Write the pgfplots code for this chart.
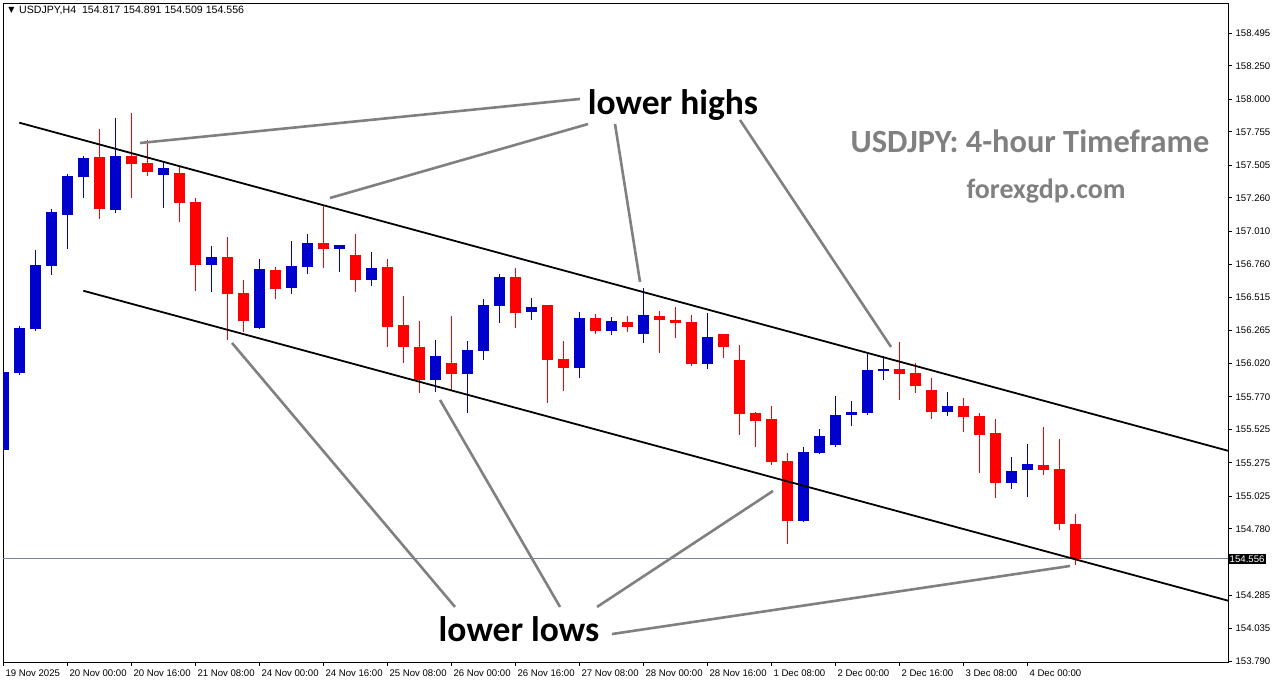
\documentclass[border=0pt]{standalone}
\usepackage{fontspec}
\setmainfont{Carlito}
\newfontfamily\tickfont{Liberation Sans}
\newfontfamily\symfont{DejaVu Sans}
\usepackage{pgfplots}
\pgfplotsset{compat=1.18}
\usepackage{pgfplotstable}

\definecolor{mtblue}{RGB}{0,0,204}
\definecolor{mtred}{RGB}{255,0,0}
\definecolor{annog}{RGB}{128,128,128}
\definecolor{pline}{RGB}{119,136,153}

\pgfplotstableread{
x O H L C
0 155.371 155.963 155.333 155.958
1 155.950 156.300 155.933 156.285
2 156.278 156.869 156.265 156.757
3 156.752 157.179 156.682 157.154
4 157.132 157.439 156.877 157.424
5 157.419 157.574 157.259 157.559
7 157.169 157.858 157.149 157.574
10 157.434 157.536 157.186 157.484
13 156.759 156.899 156.557 156.817
16 156.285 156.802 156.278 156.727
18 156.585 156.937 156.542 156.750
19 156.742 156.989 156.692 156.922
21 156.877 156.907 156.705 156.907
23 156.647 156.854 156.602 156.735
27 155.898 156.195 155.808 156.077
29 155.943 156.188 155.650 156.120
30 156.115 156.505 156.048 156.457
31 156.452 156.690 156.325 156.667
33 156.407 156.510 156.347 156.442
36 155.988 156.405 155.913 156.360
38 156.265 156.367 156.235 156.337
40 156.242 156.585 156.175 156.382
44 156.017 156.397 155.980 156.217
50 154.841 155.393 154.835 155.356
51 155.351 155.528 155.343 155.476
52 155.408 155.776 155.396 155.633
53 155.635 155.738 155.551 155.656
54 155.650 156.090 155.635 155.970
55 155.965 156.075 155.898 155.978
59 155.658 155.806 155.628 155.701
63 155.126 155.319 155.081 155.214
64 155.223 155.416 155.021 155.266
}\bull

\pgfplotstableread{
x O H L C
6 157.566 157.776 157.104 157.179
8 157.576 157.896 157.259 157.516
9 157.521 157.694 157.424 157.456
11 157.446 157.494 157.081 157.224
12 157.229 157.259 156.562 156.759
14 156.817 156.967 156.197 156.542
15 156.547 156.645 156.255 156.340
17 156.720 156.744 156.500 156.579
20 156.922 157.207 156.735 156.877
22 156.832 156.989 156.557 156.647
24 156.742 156.802 156.145 156.295
25 156.307 156.525 156.025 156.145
26 156.145 156.337 155.800 155.898
28 156.023 156.375 155.815 155.943
32 156.667 156.735 156.287 156.400
34 156.457 156.457 155.725 156.048
35 156.053 156.188 155.815 155.988
37 156.360 156.390 156.242 156.265
39 156.330 156.375 156.257 156.295
41 156.375 156.412 156.100 156.345
42 156.345 156.442 156.212 156.322
43 156.330 156.382 156.002 156.017
45 156.240 156.240 156.062 156.145
46 156.045 156.158 155.486 155.643
47 155.648 155.658 155.396 155.590
48 155.603 155.701 155.261 155.283
49 155.289 155.348 154.669 154.841
56 155.978 156.180 155.748 155.943
57 155.948 156.023 155.800 155.853
58 155.820 155.910 155.605 155.658
60 155.701 155.761 155.508 155.620
61 155.626 155.648 155.201 155.486
62 155.498 155.603 155.014 155.126
65 155.259 155.543 155.186 155.223
66 155.229 155.453 154.774 154.819
67 154.817 154.891 154.509 154.556
}\bear

\begin{document}
\begin{tikzpicture}
\path[use as bounding box] (-3pt,-22pt) rectangle (1273pt,662pt);
\begin{axis}[
  at={(0pt,0pt)}, anchor=south west,
  scale only axis, width=1225pt, height=659pt,
  xmin=0, xmax=76.5625, ymin=153.7825, ymax=158.720,
  axis line style={black, line width=0.8pt},
  clip mode=individual,
  xtick={0,4,...,64},
  xticklabels={19 Nov 2025,20 Nov 00:00,20 Nov 16:00,21 Nov 08:00,24 Nov 00:00,24 Nov 16:00,25 Nov 08:00,26 Nov 00:00,26 Nov 16:00,27 Nov 08:00,28 Nov 00:00,28 Nov 16:00,1 Dec 08:00,2 Dec 00:00,2 Dec 16:00,3 Dec 08:00,4 Dec 00:00},
  ytick={153.790,154.035,154.285,154.780,155.025,155.275,155.525,155.770,156.020,156.265,156.515,156.760,157.010,157.260,157.505,157.755,158.000,158.250,158.495},
  yticklabels={153.790,154.035,154.285,154.780,155.025,155.275,155.525,155.770,156.020,156.265,156.515,156.760,157.010,157.260,157.505,157.755,158.000,158.250,158.495},
  xtick pos=left, ytick pos=right, yticklabel pos=right,
  tick align=outside, major tick length=4pt,
  tick style={black, line width=0.8pt},
  xticklabel style={font=\tickfont\fontsize{9.6}{10}\selectfont, anchor=north west, xshift=-1pt},
  yticklabel style={font=\tickfont\fontsize{9.6}{10}\selectfont, anchor=west},
]
% current price line
\addplot[pline, line width=0.7pt] coordinates {(0,154.556) (76.5625,154.556)};
% wicks
\addplot[mtblue, line width=1pt, no markers, quiver={u=0, v=\thisrow{H}-\thisrow{L}}] table[x=x, y=L]{\bull};
\addplot[mtred, line width=1pt, no markers, quiver={u=0, v=\thisrow{H}-\thisrow{L}}] table[x=x, y=L]{\bear};
% bodies
\addplot[mtblue, line width=11pt, line cap=butt, no markers, quiver={u=0, v=\thisrow{C}-\thisrow{O}}] table[x=x, y=O]{\bull};
\addplot[mtred, line width=11pt, line cap=butt, no markers, quiver={u=0, v=\thisrow{C}-\thisrow{O}}] table[x=x, y=O]{\bear};
% channel
\addplot[black, line width=1.8pt] coordinates {(1.02,157.823) (76.5625,155.365)};
\addplot[black, line width=1.8pt] coordinates {(5.02,156.564) (76.5625,154.242)};
% annotation lines
\draw[annog, line width=2.6pt] (axis cs:36.06,158.001) -- (axis cs:8.5625,157.671);
\draw[annog, line width=2.6pt] (axis cs:36.5625,157.813) -- (axis cs:20.4375,157.259);
\draw[annog, line width=2.6pt] (axis cs:38.25,157.813) -- (axis cs:39.8125,156.630);
\draw[annog, line width=2.6pt] (axis cs:46.0625,157.843) -- (axis cs:55.5,156.143);
\draw[annog, line width=2.6pt] (axis cs:28.25,154.195) -- (axis cs:14.3125,156.173);
\draw[annog, line width=2.6pt] (axis cs:34.8125,154.195) -- (axis cs:27.3125,155.746);
\draw[annog, line width=2.6pt] (axis cs:37.125,154.195) -- (axis cs:48.125,155.064);
\draw[annog, line width=2.6pt] (axis cs:38.0625,153.992) -- (axis cs:66.6875,154.502);
% price label
\node[fill=black, text=white, font=\tickfont\fontsize{9.6}{10}\selectfont, anchor=west, inner sep=1.5pt] at (axis cs:76.5625,154.556) {154.556};
\end{axis}
% texts
\node[anchor=center, font=\symfont\fontsize{8}{8}\selectfont] at (8.5pt,652pt) {▼};
\node[anchor=west, inner sep=0pt, font=\tickfont\fontsize{10.6}{11}\selectfont] at (16pt,652pt) {USDJPY,H4\ \ 154.817 154.891 154.509 154.556};
\node[anchor=base, inner sep=0pt, font=\bfseries\fontsize{35.5}{37}\selectfont] at (670pt,547pt) {lower highs};
\node[anchor=base, inner sep=0pt, font=\bfseries\fontsize{35.5}{37}\selectfont] at (516pt,20pt) {lower lows};
\node[anchor=base, inner sep=0pt, text=annog, font=\bfseries\fontsize{32.4}{34}\selectfont] at (1027pt,509pt) {USDJPY: 4-hour Timeframe};
\node[anchor=base, inner sep=0pt, text=annog, font=\bfseries\fontsize{27.9}{30}\selectfont] at (1043pt,463pt) {forexgdp.com};
\end{tikzpicture}
\end{document}
